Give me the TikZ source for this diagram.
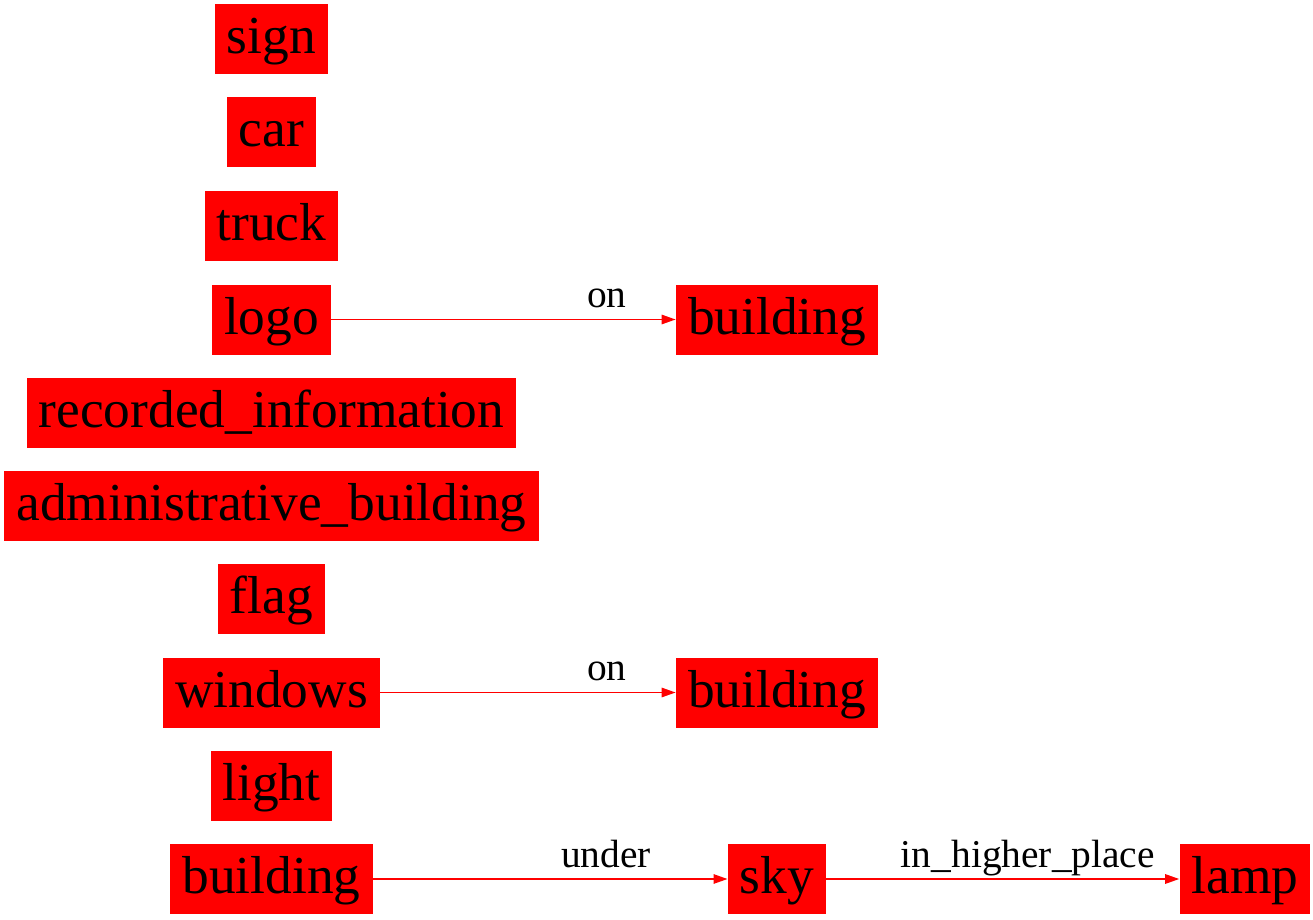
\documentclass[tikz,border=0pt]{standalone}
\usepackage{fontspec}
\setmainfont{Liberation Serif}
\usetikzlibrary{arrows.meta}
\tikzset{
	obj/.style={fill=red, draw=none, minimum height=35pt, inner xsep=6pt, inner ysep=0pt, text height=20.5pt, text depth=6pt, font=\fontsize{26.7}{30}\selectfont},
	rel/.style={draw=red, line width=0.7pt, -{Triangle[length=7pt,width=4.75pt]}},
	lbl/.style={inner sep=0pt, text depth=0pt, above=5.5pt, font=\fontsize{19.7}{22}\selectfont}
}

\begin{document}
\begin{tikzpicture}[x=0.5pt, y=-0.5pt]
		%%%%% START %%%%%
		
		\useasboundingbox (0, 0) rectangle (1313, 920);
		
		\node[obj] (sign) at (271.5, 39.5) {sign};
		\node[obj] (car) at (271.5, 132.5) {car};
		\node[obj] (truck) at (271.5, 226) {truck};
		\node[obj] (logo) at (271.5, 319.5) {logo};
		\node[obj] (recinfo) at (271.5, 412.5) {recorded\_information};
		\node[obj] (adminbld) at (271.5, 506) {administrative\_building};
		\node[obj] (flag) at (271.5, 599) {flag};
		\node[obj] (windows) at (271.5, 692.5) {windows};
		\node[obj] (light) at (271.5, 786) {light};
		\node[obj] (building) at (271.5, 879) {building};
		
		\node[obj] (bldA) at (777, 319.5) {building};
		\node[obj] (bldB) at (777, 692.5) {building};
		\node[obj] (sky) at (777, 879) {sky};
		\node[obj] (lamp) at (1245, 879) {lamp};
		
		\draw[rel] (logo) -- (bldA) node[lbl, pos=0.80] {on};
		\draw[rel] (windows) -- (bldB) node[lbl, pos=0.767] {on};
		\draw[rel] (building) -- (sky) node[lbl, pos=0.657] {under};
		\draw[rel] (sky) -- (lamp) node[lbl, pos=0.571] {in\_higher\_place};
		
		%%%%% END %%%%%
	\end{tikzpicture}
\end{document}
